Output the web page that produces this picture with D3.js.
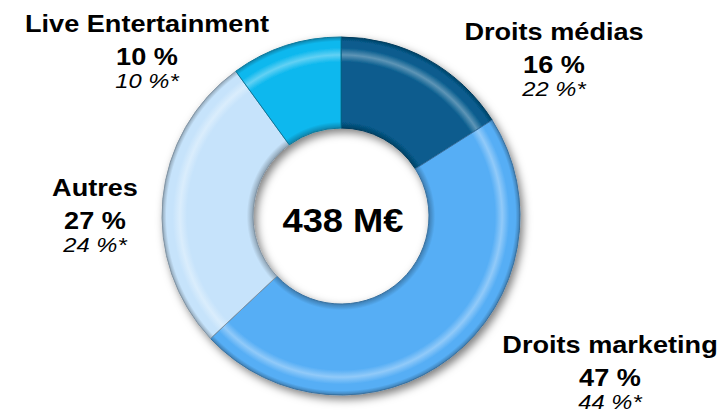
<!DOCTYPE html>
<html>
<head>
<meta charset="utf-8">
<script src="https://cdn.jsdelivr.net/npm/d3@7"></script>
<style>
  html, body { margin: 0; padding: 0; background: #fff; }
  text { font-family: "Liberation Sans", Arial, sans-serif; fill: #000; }
</style>
</head>
<body>
<div id="chart"></div>
<script>
// data
const categories = ["Droits médias", "Droits marketing", "Autres", "Live Entertainment"];
const shares = [16, 47, 27, 10];          // % of 438 M€
const sharesPrev = [22, 44, 24, 10];      // % marked with *
const colors = ["#075c8e", "#56aef5", "#c6e3fb", "#0db8ee"];
const total = "438 M€";

const width = 724, height = 419;
const cx = 341, cy = 216, rOuter = 179, rInner = 88;

const svg = d3.select("#chart").append("svg")
  .attr("width", width)
  .attr("height", height);

const defs = svg.append("defs");

// drop shadow for the ring
const shadow = defs.append("filter")
  .attr("id", "shadow")
  .attr("x", "-20%").attr("y", "-20%")
  .attr("width", "140%").attr("height", "140%");
shadow.append("feDropShadow")
  .attr("dx", 3).attr("dy", 4)
  .attr("stdDeviation", 4)
  .attr("flood-color", "#000")
  .attr("flood-opacity", 0.5);

// bevel-like radial shading per slice
const inner = rInner / rOuter;
colors.forEach(function(c, i) {
  const g = defs.append("radialGradient")
    .attr("id", "grad" + i)
    .attr("gradientUnits", "userSpaceOnUse")
    .attr("cx", 0).attr("cy", 0).attr("r", rOuter);
  const dark = d3.color(c).darker(0.9);
  const light = d3.interpolateRgb(c, "#fff")(0.35);
  g.append("stop").attr("offset", inner).attr("stop-color", dark);
  g.append("stop").attr("offset", inner + 0.035).attr("stop-color", c);
  g.append("stop").attr("offset", 0.86).attr("stop-color", c);
  g.append("stop").attr("offset", 0.9).attr("stop-color", light);
  g.append("stop").attr("offset", 0.94).attr("stop-color", c);
  g.append("stop").attr("offset", 0.975).attr("stop-color", c);
  g.append("stop").attr("offset", 1).attr("stop-color", dark);
});

const data = categories.map(function(name, i) {
  return {name: name, value: shares[i], prev: sharesPrev[i], color: colors[i], idx: i};
});

const pie = d3.pie()
  .value(d => d.value)
  .sort(null);

const arc = d3.arc()
  .innerRadius(rInner)
  .outerRadius(rOuter);

const ring = svg.append("g")
  .attr("transform", "translate(" + cx + "," + cy + ")")
  .attr("filter", "url(#shadow)");

ring.selectAll("path")
  .data(pie(data))
  .enter()
  .append("path")
    .attr("d", arc)
    .attr("fill", d => "url(#grad" + d.data.idx + ")")
    .attr("stroke", d => d3.color(d.data.color).darker(1.2))
    .attr("stroke-width", 1);

// total in the hole
svg.append("text")
  .attr("transform", "translate(" + (cx + 2) + "," + (cy + 16) + ") scale(1.1,1)")
  .attr("text-anchor", "middle")
  .style("font-size", "33px")
  .style("font-weight", "bold")
  .text(total);

// labels: [x center, first baseline]
const labelPos = [[554, 40], [610, 353], [95, 196], [147, 32]];

const labels = svg.selectAll("g.label")
  .data(data)
  .enter()
  .append("g")
    .attr("class", "label")
    .attr("transform", d => "translate(" + labelPos[d.idx][0] + "," + labelPos[d.idx][1] + ") scale(1.13,1)");

labels.append("text")
  .attr("text-anchor", "middle")
  .style("font-size", "24px")
  .style("font-weight", "bold")
  .text(d => d.name);

labels.append("text")
  .attr("text-anchor", "middle")
  .attr("y", 33)
  .style("font-size", "24px")
  .style("font-weight", "bold")
  .text(d => d.value + " %");

labels.append("text")
  .attr("text-anchor", "middle")
  .attr("y", 56)
  .style("font-size", "21px")
  .style("font-style", "italic")
  .text(d => d.prev + " %*");
</script>
</body>
</html>
